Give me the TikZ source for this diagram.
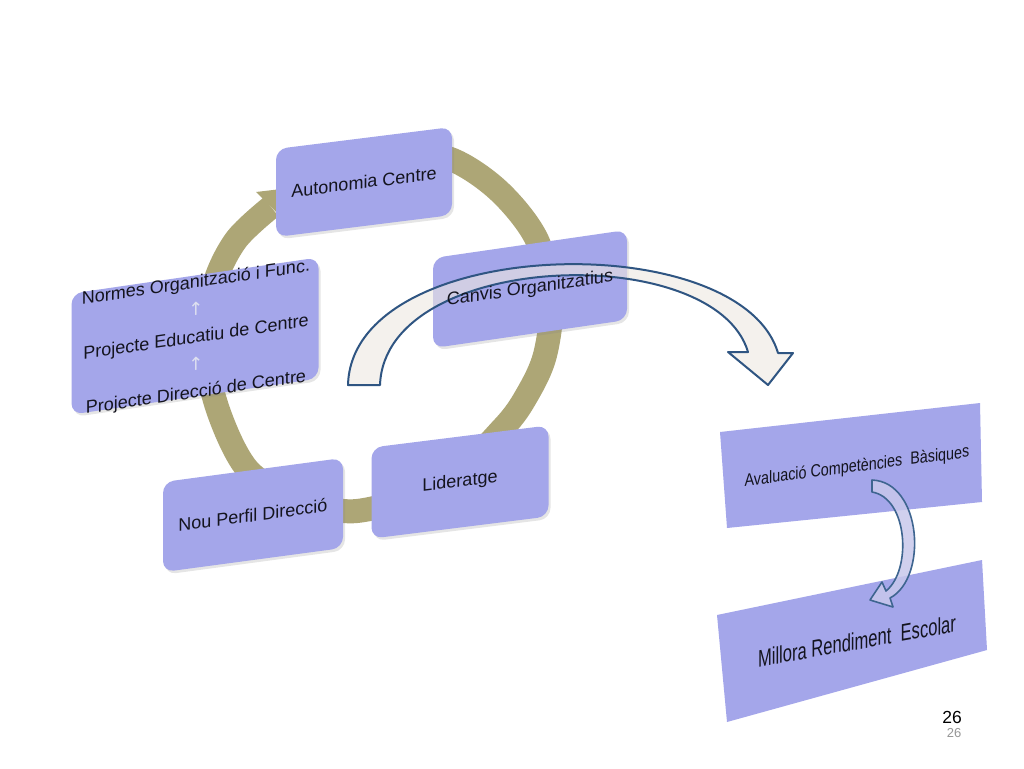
\documentclass[tikz,border=0pt]{standalone}
\usepackage{fontspec}
\setmainfont{Liberation Sans}
\newfontfamily\symfont{DejaVu Sans}
\usetikzlibrary{shadows}
\definecolor{lav}{RGB}{164,166,234}
\definecolor{ringc}{RGB}{173,166,118}
\definecolor{arrowblue}{RGB}{47,85,130}
\definecolor{cream}{RGB}{238,232,225}
\definecolor{upc}{RGB}{222,224,240}
\definecolor{txt}{RGB}{20,20,30}
\definecolor{smallfill}{RGB}{200,200,236}
\definecolor{smalldraw}{RGB}{62,101,144}
\definecolor{pgray}{RGB}{150,150,150}
\begin{document}
\begin{tikzpicture}[x=1pt, y=-1pt,
  cbox/.style={fill=lav, rounded corners=11pt, inner sep=0pt, text=txt,
    font=\fontsize{18}{21.6}\selectfont, align=center,
    drop shadow={shadow xshift=2pt, shadow yshift=-2.5pt, opacity=0.2}},
  pbox/.style={fill=lav},
  ringline/.style={draw=ringc, line width=24pt},
  bigarrow/.style={draw=arrowblue, line width=2pt, fill=cream, fill opacity=0.6, line join=round},
  smallarrow/.style={draw=smalldraw, line width=1.6pt, fill=smallfill, fill opacity=0.85, line join=round},
  plain/.style={text=txt, inner sep=0pt}]
\fill[white] (0,0) rectangle (1024,768);
\useasboundingbox (0,0) rectangle (1024,768);

% ring
\draw[ringline] plot[smooth, tension=0.55] coordinates {(400,150) (453,160) (500,192) (537,240) (551,300) (545,355) (527,395) (503,428) (445,482) (357,511) (295,497) (248,470) (218,410) (205,345) (214,285) (236,240) (271,207)};
\fill[ringc] (256,192) -- (290,188) -- (286,222) -- cycle;

% boxes of the cycle
\node[cbox, yslant=0.125, minimum width=176pt, minimum height=88pt] (auto) at (364,182) {Autonomia Centre};
\node[cbox, yslant=0.145, minimum width=194pt, minimum height=90pt] (canv) at (530,289) {};
\node[cbox, yslant=0.146, minimum width=247pt, minimum height=121pt] (norm) at (195,336) {};
\node[plain, yslant=0.146, align=center, font=\fontsize{18}{27.5}\selectfont] (normt) at (196,338)
  {Normes Organització i Func.\\{\symfont\color{upc}↑}\\Projecte Educatiu de Centre\\{\symfont\color{upc}↑}\\Projecte Direcció de Centre};
\node[cbox, yslant=0.125, minimum width=177pt, minimum height=91pt] (lide) at (460,482) {Lideratge};
\node[cbox, yslant=0.134, minimum width=180pt, minimum height=90pt] (nou) at (253,515) {Nou Perfil Direcció};

% right boxes
\fill[pbox] (720,432) -- (980,403) -- (982,502) -- (727,528) -- cycle;
\node[plain, font=\fontsize{17.5}{20}\selectfont, yslant=0.13, xscale=0.82] (aval) at (857,467) {Avaluació Competències~ Bàsiques};
\fill[pbox] (717,615) -- (982,560) -- (987,650) -- (727,722) -- cycle;
\node[plain, font=\fontsize{24}{27}\selectfont, yslant=0.18, xscale=0.69] (mill) at (857,641) {Millora Rendiment~ Escolar};

% small curved arrow
\filldraw[smallarrow] (872,480) .. controls (922,482) and (928,578) .. (890,598) -- (893,607) -- (870,600) -- (882,582) -- (886,591) .. controls (912,570) and (908,498) .. (872,492) -- cycle;

% big curved arrow
\filldraw[bigarrow] (348,385) .. controls (352,235) and (740,225) .. (778,353) -- (793,353) -- (768,385) -- (728,352) -- (748,352) .. controls (715,240) and (385,250) .. (380,385) -- cycle;
\node[plain, yslant=0.145, font=\fontsize{18}{21.6}\selectfont] (canvt) at (canv.center) {Canvis Organitzatius};

% page numbers
\node[plain, font=\fontsize{17.5}{20}\selectfont, text=black] (pn) at (952,717) {26};
\node[plain, font=\fontsize{13}{15}\selectfont, text=pgray] (pn2) at (954,733) {26};
\end{tikzpicture}
\end{document}
